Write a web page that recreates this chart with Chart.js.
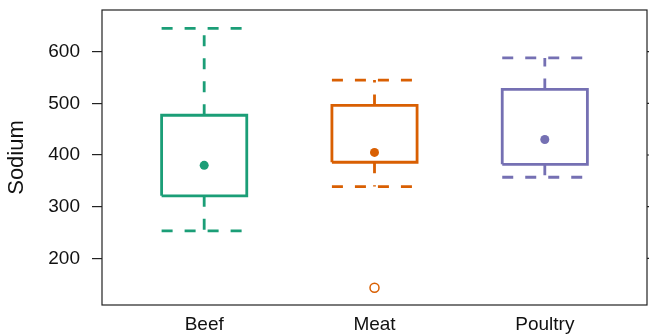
<!DOCTYPE html>
<html>
<head>
<meta charset="utf-8">
<script src="https://cdn.jsdelivr.net/npm/chart.js@4"></script>
<style>
  html, body { margin: 0; padding: 0; background: #fff; }
  #wrap { width: 649px; height: 334px; }
</style>
</head>
<body>
<div id="wrap"><canvas id="chart" width="649" height="334"></canvas></div>
<script>
// data
const categories = ["Beef", "Meat", "Poultry"];
const lowerWhisker = [253, 339, 357];
const q1 = [321, 386, 382];
const medians = [380, 405, 430];
const q3 = [477, 496, 527];
const upperWhisker = [645, 545, 588];
const outliers = [[], [143], []];
const colors = ["#1b9e77", "#d95f02", "#7570b3"];
const yTicks = [200, 300, 400, 500, 600];

const halfW = 0.25;

// build datasets: box outline, dashed whiskers, median dot, outliers
const datasets = [];
categories.forEach((cat, i) => {
  const x = i + 1;
  const col = colors[i];
  datasets.push({
    type: "line",
    data: [
      {x: x - halfW, y: q1[i]}, {x: x + halfW, y: q1[i]},
      {x: x + halfW, y: q3[i]}, {x: x - halfW, y: q3[i]},
      {x: x - halfW, y: q1[i]}
    ],
    borderColor: col, borderWidth: 2.8, pointRadius: 0, fill: false,
    borderJoinStyle: "miter"
  });
  // whiskers run from the box out to the caps
  datasets.push({
    type: "line",
    data: [
      {x: x, y: q3[i]}, {x: x, y: upperWhisker[i]},
      {x: x, y: null},
      {x: x - halfW, y: upperWhisker[i]}, {x: x + halfW, y: upperWhisker[i]},
      {x: x, y: null},
      {x: x, y: q1[i]}, {x: x, y: lowerWhisker[i]},
      {x: x, y: null},
      {x: x - halfW, y: lowerWhisker[i]}, {x: x + halfW, y: lowerWhisker[i]}
    ],
    borderColor: col, borderWidth: 2.8, borderDash: [11, 12], pointRadius: 0,
    fill: false, spanGaps: false
  });
  datasets.push({
    type: "scatter",
    data: [{x: x, y: medians[i]}],
    pointRadius: 4.5, pointBackgroundColor: col, pointBorderColor: col, borderWidth: 0
  });
  if (outliers[i].length) {
    datasets.push({
      type: "scatter",
      data: outliers[i].map(v => ({x: x, y: v})),
      pointRadius: 4.5, pointBackgroundColor: "#fff", pointBorderColor: col, pointBorderWidth: 1.5
    });
  }
});

// frame around the panel + right side tick marks
const framePlugin = {
  id: "frame",
  afterDraw(chart) {
    const {ctx, chartArea: a, scales} = chart;
    ctx.save();
    ctx.strokeStyle = "#222";
    ctx.lineWidth = 1.2;
    ctx.strokeRect(a.left, a.top, a.right - a.left, a.bottom - a.top);
    yTicks.forEach(v => {
      const y = scales.y.getPixelForValue(v);
      ctx.beginPath();
      ctx.moveTo(a.right, y);
      ctx.lineTo(a.right + 10, y);
      ctx.stroke();
    });
    ctx.restore();
  }
};

new Chart(document.getElementById("chart"), {
  type: "scatter",
  data: { datasets },
  options: {
    responsive: false,
    animation: false,
    layout: { autoPadding: false, padding: { top: 10, right: 2, left: 0, bottom: 0 } },
    plugins: { legend: { display: false }, tooltip: { enabled: false } },
    scales: {
      x: {
        type: "linear",
        min: 0.4, max: 3.6,
        afterBuildTicks: s => { s.ticks = categories.map((c, i) => ({value: i + 1})); },
        afterFit: s => { s.height = 29; s.paddingLeft = 0; s.paddingRight = 0; },
        ticks: {
          callback: v => categories[v - 1],
          font: { family: "Liberation Sans", size: 19 },
          color: "#111",
          padding: 8,
          maxRotation: 0
        },
        grid: { display: false, drawTicks: false },
        border: { display: false }
      },
      y: {
        min: 109.7, max: 680.7,
        afterBuildTicks: s => { s.ticks = yTicks.map(v => ({value: v})); },
        afterFit: s => { s.width = 102; s.paddingTop = 0; s.paddingBottom = 0; },
        ticks: {
          font: { family: "Liberation Sans", size: 19 },
          color: "#111",
          padding: 12
        },
        grid: { drawOnChartArea: false, drawTicks: true, tickLength: 10, color: "#222", lineWidth: 1.2 },
        border: { display: false },
        title: {
          display: true,
          text: "Sodium",
          font: { family: "Liberation Sans", size: 22 },
          color: "#111",
          padding: { top: 4, bottom: 0 }
        }
      }
    }
  },
  plugins: [framePlugin]
});
</script>
</body>
</html>
